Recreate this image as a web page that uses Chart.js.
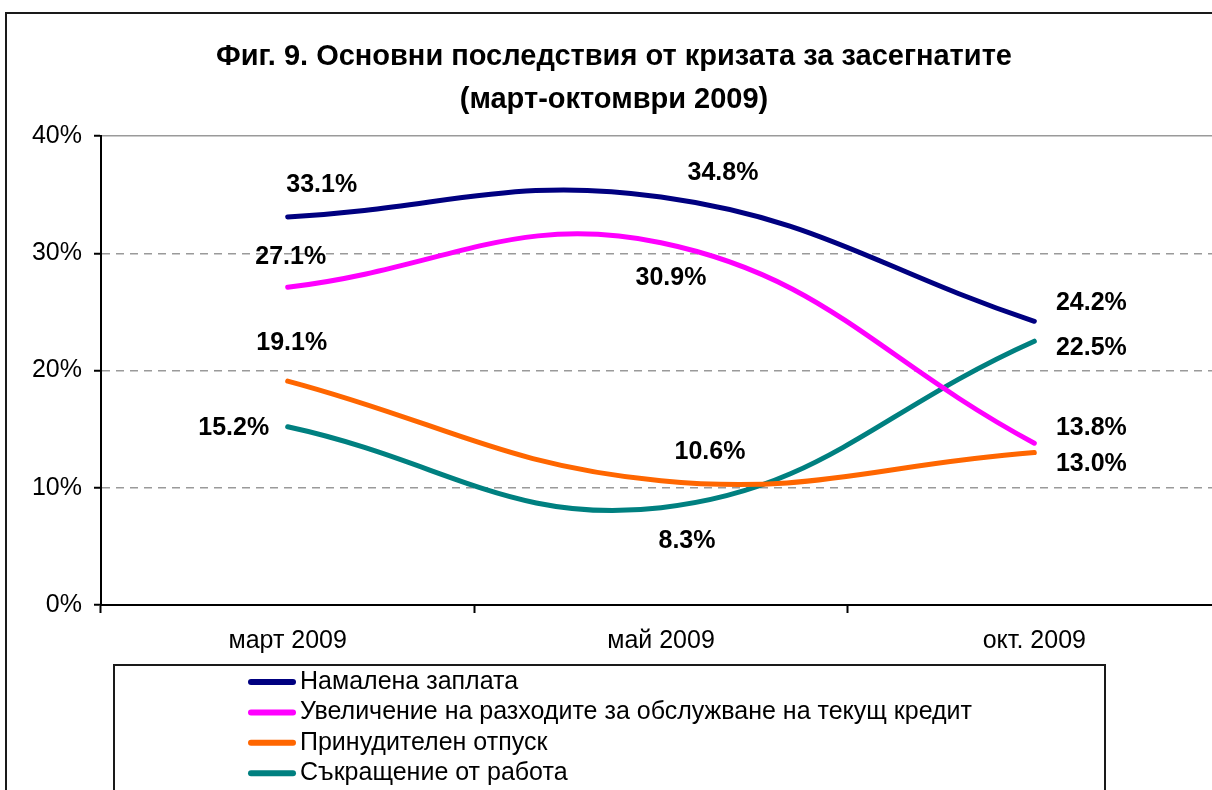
<!DOCTYPE html>
<html lang="bg">
<head>
<meta charset="UTF-8">
<title>Фиг. 9. Основни последствия от кризата за засегнатите</title>
<script src="https://cdn.jsdelivr.net/npm/chart.js"></script>
<style>
  html, body { margin: 0; padding: 0; background: #fff; overflow: hidden; }
  #frame { position: absolute; left: 5px; top: 12px; width: 1240px; height: 800px; border: 2px solid #1a1a1a; }
  canvas { display: block; }
</style>
</head>
<body>

<div id="frame"><canvas id="chart" width="1240" height="800"></canvas></div>

<script>
// categories and series (percent)
const months = ['март 2009', 'май 2009', 'окт. 2009'];
const reducedPay = [33.1, 34.8, 24.2];
const creditCosts = [27.1, 30.9, 13.8];
const forcedLeave = [19.1, 10.6, 13.0];
const layoffs = [15.2, 8.3, 22.5];
const yTicks = [0, 10, 20, 30, 40];

const names = [
    'Намалена заплата',
    'Увеличение на разходите за обслужване на текущ кредит',
    'Принудителен отпуск',
    'Съкращение от работа'
];
const colors = ['#000080', '#ff00ff', '#ff6600', '#008080'];

// where each value label sits relative to its point (px)
const labelShift = [
    [[34, -32], [62, -24], [57, -18]],
    [[3, -30], [10, 35], [57, -15]],
    [[4, -38], [49, -29], [57, 12]],
    [[-54, 1], [26, 33], [57, 7]]
];

Chart.defaults.font.family = '"Liberation Sans", Arial, sans-serif';
Chart.defaults.color = '#000';

const valueLabels = {
    id: 'valueLabels',
    afterDatasetsDraw(chart) {
        const ctx = chart.ctx;
        ctx.save();
        ctx.font = 'bold 25px "Liberation Sans", Arial, sans-serif';
        ctx.fillStyle = '#000';
        ctx.textAlign = 'center';
        ctx.textBaseline = 'middle';
        chart.data.datasets.forEach((ds, i) => {
            chart.getDatasetMeta(i).data.forEach((pt, j) => {
                const s = labelShift[i][j];
                ctx.fillText(ds.data[j].toFixed(1) + '%', pt.x + s[0], pt.y + s[1]);
            });
        });
        ctx.restore();
    }
};

const legendBox = {
    id: 'legendBox',
    afterDraw(chart) {
        const ctx = chart.ctx;
        ctx.save();
        ctx.strokeStyle = '#1a1a1a';
        ctx.lineWidth = 2;
        ctx.strokeRect(107, 651, 991, 200);
        ctx.font = '25px "Liberation Sans", Arial, sans-serif';
        ctx.textBaseline = 'middle';
        chart.data.datasets.forEach((ds, i) => {
            const y = 668 + i * 30.4;
            ctx.strokeStyle = ds.borderColor;
            ctx.lineWidth = 6;
            ctx.lineCap = 'round';
            ctx.beginPath();
            ctx.moveTo(244, y);
            ctx.lineTo(286, y);
            ctx.stroke();
            ctx.fillStyle = '#000';
            ctx.fillText(ds.label, 293, y);
        });
        ctx.restore();
    }
};

const series = [reducedPay, creditCosts, forcedLeave, layoffs];

new Chart(document.getElementById('chart'), {
    type: 'line',
    data: {
        labels: months,
        datasets: series.map((d, i) => ({
            label: names[i],
            data: d,
            borderColor: colors[i],
            backgroundColor: colors[i],
            borderWidth: 5,
            borderCapStyle: 'round',
            tension: 0.42,
            pointRadius: 0,
            fill: false
        }))
    },
    options: {
        responsive: false,
        animation: false,
        events: [],
        layout: { padding: { left: 0, right: 26, top: 0, bottom: 800 - 591 - 52 } },
        plugins: {
            legend: { display: false },
            tooltip: { enabled: false },
            title: {
                display: true,
                text: ['Фиг. 9. Основни последствия от кризата за засегнатите', '(март-октомври 2009)'],
                color: '#000',
                font: { size: 29, weight: 'bold', lineHeight: 43 / 29 },
                padding: { top: 21.5, bottom: 14.5 }
            }
        },
        scales: {
            x: {
                offset: true,
                grid: { offset: true, drawOnChartArea: false, drawTicks: true, tickLength: 8, tickColor: '#000', tickWidth: 2 },
                border: { color: '#000', width: 2 },
                ticks: { font: { size: 25 }, color: '#000', padding: 13, maxRotation: 0 },
                afterFit: s => { s.height = 52; }
            },
            y: {
                min: yTicks[0],
                max: yTicks[yTicks.length - 1],
                afterBuildTicks: s => { s.ticks = yTicks.map(v => ({ value: v })); },
                ticks: { callback: v => v + '%', font: { size: 25 }, color: '#000', padding: 12 },
                grid: {
                    color: c => (c.tick && c.tick.value === 0) ? 'rgba(0,0,0,0)' : '#9a9a9a',
                    lineWidth: 1.5,
                    tickLength: 7,
                    tickColor: '#000',
                    tickWidth: 2
                },
                border: {
                    color: '#000',
                    width: 2,
                    dash: c => (c.tick && c.tick.value === 40) ? [] : [8, 6]
                },
                afterFit: s => { s.width = 94; }
            }
        }
    },
    plugins: [valueLabels, legendBox]
});
</script>

</body>
</html>
